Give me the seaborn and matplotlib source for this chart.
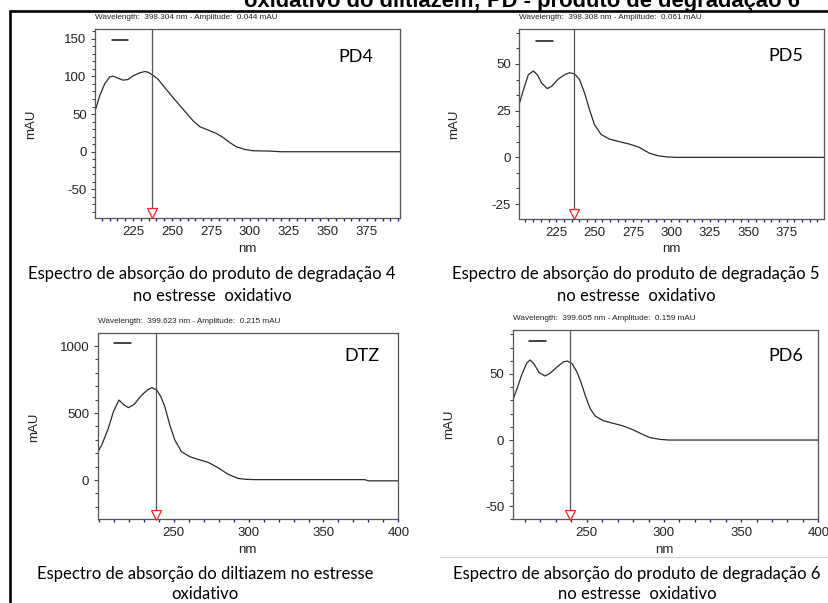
import numpy as np
import pandas as pd
import seaborn as sns
import matplotlib
matplotlib.use("Agg")
import matplotlib.pyplot as plt
from matplotlib.lines import Line2D
from matplotlib.ticker import MultipleLocator
from matplotlib.transforms import offset_copy

# ---------------- data ----------------
pd4_nm = [200.4, 203.6, 206.9, 210.1, 212.2, 215.4, 218.6, 221.8, 225.0, 229.3, 232.5,
          234.6, 237.4, 241.0, 245.3, 250.6, 257.0, 263.5, 267.8, 273.1, 278.4, 282.7,
          287.0, 291.2, 296.6, 301.9, 312.6, 320.0, 396.5]
pd4_mau = [52.1, 74.3, 90.6, 99.5, 100.4, 97.7, 95.1, 95.9, 100.8, 104.8, 106.5,
           105.7, 102.1, 96.4, 85.3, 72.0, 56.6, 41.1, 33.2, 28.8, 24.3, 19.0,
           12.3, 6.6, 3.1, 1.3, 0.9, 0.0, 0.0]

pd5_nm = [200.5, 203.7, 206.9, 210.1, 212.7, 215.5, 219.2, 222.0, 226.3, 230.6, 233.8,
          237.0, 240.2, 243.5, 246.7, 249.9, 254.3, 259.6, 266.1, 272.6, 279.0, 285.5,
          290.9, 297.4, 303.0, 399.5]
pd5_mau = [27.3, 36.2, 44.3, 46.2, 44.3, 39.8, 36.8, 38.0, 41.9, 44.3, 45.3,
           44.6, 41.6, 34.4, 25.5, 17.5, 12.2, 9.8, 8.4, 7.1, 5.4, 2.3,
           0.9, 0.2, 0.0, 0.0]

dtz_nm = [198.5, 201.8, 206.2, 209.6, 213.3, 216.2, 219.6, 223.5, 228.5, 232.9, 235.5,
          238.5, 241.3, 244.0, 247.3, 250.7, 255.1, 260.7, 266.2, 272.9, 279.5, 286.2,
          292.9, 298.5, 305.0, 377.5, 380.0, 400.5]
dtz_mau = [199, 261, 386, 510, 597, 565, 540, 565, 634, 677, 689,
           672, 622, 547, 410, 298, 211, 174, 154, 132, 92, 43,
           12, 5, 3, 3, -6, -6]

pd6_nm = [201.3, 204.5, 207.8, 211.0, 213.2, 215.8, 219.2, 222.9, 226.2, 230.5, 234.8,
          237.4, 240.3, 243.5, 246.1, 248.9, 252.1, 255.4, 260.8, 267.3, 273.8, 280.3,
          285.7, 291.1, 297.6, 303.0, 400.5]
pd6_mau = [27.8, 37.9, 49.2, 58.1, 60.6, 57.6, 51.0, 48.5, 50.5, 55.1, 59.1,
           59.8, 58.1, 51.8, 44.2, 34.1, 24.0, 18.2, 14.6, 12.6, 10.6, 7.6,
           4.5, 1.8, 0.5, 0.0, 0.0]

labels = ["PD4", "PD5", "DTZ", "PD6"]
cursor_nm = [237.4, 236.6, 238.0, 239.4]
header_texts = [
    "Wavelength:  398.304 nm - Amplitude:  0.044 mAU",
    "Wavelength:  398.308 nm - Amplitude:  0.061 mAU",
    "Wavelength:  399.623 nm - Amplitude:  0.215 mAU",
    "Wavelength:  399.605 nm - Amplitude:  0.159 mAU",
]
captions = [
    ["Espectro de absorção do produto de degradação 4", "no estresse  oxidativo"],
    ["Espectro de absorção do produto de degradação 5", "no estresse  oxidativo"],
    ["Espectro de absorção do diltiazem no estresse", "oxidativo"],
    ["Espectro de absorção do produto de degradação 6", "no estresse  oxidativo"],
]
title_text = "oxidativo do diltiazem; PD - produto de degradação 6"

xticks_list = [[225, 250, 275, 300, 325, 350, 375], [225, 250, 275, 300, 325, 350, 375],
               [250, 300, 350, 400], [250, 300, 350, 400]]
yticks_list = [[-50, 0, 50, 100, 150], [-25, 0, 25, 50], [0, 500, 1000], [-50, 0, 50]]

# ---------------- layout ----------------
W, H = 829, 603
sns.set_theme(style="white")
plt.rcParams["font.family"] = ["Liberation Sans", "DejaVu Sans"]
plt.rcParams["axes.unicode_minus"] = False

fig = plt.figure(figsize=(W / 100, H / 100), dpi=100)
fig.patch.set_facecolor("white")


def fx(x):
    return x / W


def fy(y):
    return 1 - y / H


# axes boxes in pixels: left, top, right, bottom
boxes = [(95, 29, 400, 218), (519, 29, 824, 219), (97.7, 333.3, 398.3, 519.3), (512.7, 330, 818.3, 519.3)]
xlims = [(200.6, 396.2), (200.8, 399.3), (199.1, 400.0), (202.0, 400.0)]
ylims = [(-88, 163), (-33, 68.7), (-293, 1095), (-60, 83.3)]
yminor = [10, 25 / 3, 100, 10]
xminor = [5, 5, 10, 10]
label_pos = [(356, 57), (785.5, 56), (362, 356), (785.5, 356)]
dash_pos = [(0.056, 0.108, 0.94), (0.056, 0.111, 0.938), (0.054, 0.110, 0.946), (0.054, 0.109, 0.943)]
mau_pos = [(31, 124), (454, 124), (34.5, 427), (449, 424)]
nm_pos = [(247.5, 249), (671.5, 249), (247.5, 550), (664, 550)]
cap_pos = [(212, 274, 296), (636, 274, 296), (205, 574, 594), (637, 574, 594)]

series = [(pd4_nm, pd4_mau), (pd5_nm, pd5_mau), (dtz_nm, dtz_mau), (pd6_nm, pd6_mau)]

for i in range(4):
    l, t, r, b = boxes[i]
    ax = fig.add_axes([fx(l), fy(b), (r - l) / W, (b - t) / H])
    ax.set_facecolor("white")
    df = pd.DataFrame({"nm": series[i][0], "mAU": series[i][1]})
    sns.lineplot(data=df, x="nm", y="mAU", ax=ax, color="#2b2b2b", lw=0.9,
                 estimator=None, sort=False)
    ax.set_xlim(*xlims[i])
    ax.set_ylim(*ylims[i])
    ax.set_xlabel("")
    ax.set_ylabel("")
    ax.set_xticks(xticks_list[i])
    ax.set_yticks(yticks_list[i])
    ax.xaxis.set_minor_locator(MultipleLocator(xminor[i]))
    ax.yaxis.set_minor_locator(MultipleLocator(yminor[i]))
    ax.tick_params(axis="x", which="both", direction="out", color="#1f2a8a",
                   length=2, width=1, labelsize=9.5, labelcolor="#222222", pad=3.5,
                   bottom=True)
    ax.tick_params(axis="y", which="major", direction="out", color="#444444",
                   length=3, width=0.8, labelsize=9.5, labelcolor="#222222", pad=3,
                   left=True)
    ax.tick_params(axis="y", which="minor", direction="out", color="#444444",
                   length=2, width=0.8, left=True)
    for s in ax.spines.values():
        s.set_color("#555555")
        s.set_linewidth(0.9)
    # cursor line + marker
    ax.axvline(cursor_nm[i], color="#555555", lw=0.9)
    tr = offset_copy(ax.transData, fig=fig, y=3.3, units="points")
    ax.plot([cursor_nm[i]], [ylims[i][0]], marker="v", ms=7, mfc="white",
            mec="#ff2020", mew=0.9, transform=tr, clip_on=False, zorder=5)
    # small legend dash
    x0, x1, yd = dash_pos[i]
    ax.plot([x0, x1], [yd, yd], transform=ax.transAxes, color="#111111", lw=1.1)
    # panel label
    fig.text(fx(label_pos[i][0]), fy(label_pos[i][1]), labels[i], ha="center",
             va="center", fontsize=13, family=["Lato", "DejaVu Sans"], color="black")
    # header
    fig.text(fx(l), fy(t - 11.5), header_texts[i], ha="left", va="center",
             fontsize=5.85, color="#222222")
    # axis labels
    fig.text(fx(mau_pos[i][0]), fy(mau_pos[i][1]), "mAU", rotation=90, ha="center",
             va="center", fontsize=9.5, color="#222222")
    fig.text(fx(nm_pos[i][0]), fy(nm_pos[i][1]), "nm", ha="center",
             va="center", fontsize=9.5, color="#222222")
    # captions
    cx, cy1, cy2 = cap_pos[i]
    fig.text(fx(cx), fy(cy1), captions[i][0], ha="center", va="center",
             fontsize=12, family=["Lato", "DejaVu Sans"], color="black")
    fig.text(fx(cx), fy(cy2), captions[i][1], ha="center", va="center",
             fontsize=12, family=["Lato", "DejaVu Sans"], color="black")

# frame lines and clipped title (the reference shows it cut at the top edge)
fig.add_artist(Line2D([fx(10), fx(829)], [fy(10.5), fy(10.5)], color="black", lw=1.9))
fig.add_artist(Line2D([fx(10.3), fx(10.3)], [fy(10.5), fy(603)], color="black", lw=1.9))
fig.add_artist(Line2D([fx(440), fx(829)], [fy(557), fy(557)], color="#d0d0d0", lw=0.8))
fig.text(fx(522), fy(7.5), title_text, ha="center", va="baseline", fontsize=15.8,
         fontweight="bold", color="black")

fig.savefig("out.png", dpi=100, facecolor="white")
